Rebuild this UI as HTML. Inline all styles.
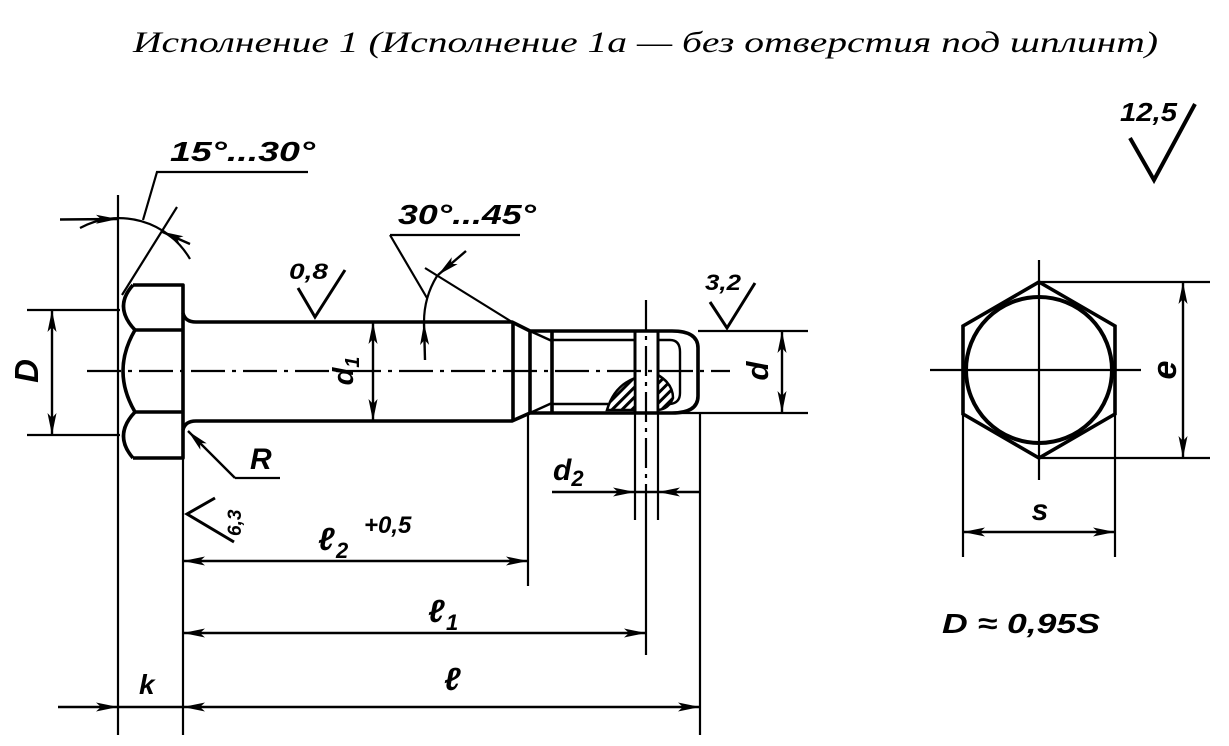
<!DOCTYPE html>
<html><head><meta charset="utf-8"><style>
html,body{margin:0;padding:0;background:#fff;}
svg{display:block;}
.t{font-family:"Liberation Sans","DejaVu Sans",sans-serif;font-style:italic;font-weight:bold;fill:#000;}
</style></head><body>
<svg width="1229" height="746" viewBox="0 0 1229 746" xmlns="http://www.w3.org/2000/svg">
<defs>
<marker id="a" viewBox="0 0 22 10" refX="22" refY="5" markerWidth="22" markerHeight="10" markerUnits="userSpaceOnUse" orient="auto-start-reverse"><path d="M0,0.5 L22,5 L0,9.5 L5,5 z" fill="#000"/></marker>
<pattern id="h" patternUnits="userSpaceOnUse" width="7" height="7" patternTransform="rotate(45)"><rect width="7" height="7" fill="#fff"/><line x1="1.5" y1="0" x2="1.5" y2="7" stroke="#000" stroke-width="3"/></pattern>
</defs>
<rect width="1229" height="746" fill="#fff"/>

<text x="133" y="52" font-family="Liberation Serif, DejaVu Serif, serif" font-style="italic" font-size="30" textLength="1025" lengthAdjust="spacingAndGlyphs">Исполнение 1 (Исполнение 1а — без отверстия под шплинт)</text>

<!-- thin lines -->
<g stroke="#000" stroke-width="2.2" fill="none">
  <path d="M87,371 H730" stroke-dasharray="34 7 4 7"/>
  <path d="M646,300 V500" stroke-dasharray="30 6 4 6"/>
  <path d="M646,500 V655"/>
  <path d="M118,195 V735"/>
  <path d="M183,458 V735"/>
  <path d="M528,415 V586"/>
  <path d="M700,413 V735"/>
  <path d="M635,413 V520"/>
  <path d="M658,413 V520"/>
  <path d="M27,310 H120"/>
  <path d="M27,435 H120"/>
  <path d="M698,331 H808"/>
  <path d="M672,413 H808"/>
  <path d="M122,295 L177,207"/>
  <path d="M80,228 A82,82 0 0 1 190,259"/>
  <path d="M143,220 L157,172 H308"/>
  <path d="M425,268 L512,322"/>
  <path d="M424,322 A88,88 0 0 1 437,276"/>
  <path d="M390,235 H520"/>
  <path d="M390,235 L427,298"/>
  <path d="M235,478 H280"/>
  <path d="M930,370 H1141"/>
  <path d="M1039,260 V480"/>
  <path d="M1039,282 H1210"/>
  <path d="M1039,458 H1210"/>
  <path d="M963,414 V557"/>
  <path d="M1115,414 V557"/>
</g>

<!-- dimension lines with arrows -->
<g stroke="#000" stroke-width="2.4" fill="none">
  <path d="M52,310 V435" marker-start="url(#a)" marker-end="url(#a)"/>
  <path d="M373,322 V421" marker-start="url(#a)" marker-end="url(#a)"/>
  <path d="M782,331 V413" marker-start="url(#a)" marker-end="url(#a)"/>
  <path d="M1183,282 V458" marker-start="url(#a)" marker-end="url(#a)"/>
  <path d="M963,532 H1115" marker-start="url(#a)" marker-end="url(#a)"/>
  <path d="M183,561 H528" marker-start="url(#a)" marker-end="url(#a)"/>
  <path d="M183,633 H646" marker-start="url(#a)" marker-end="url(#a)"/>
  <path d="M183,707 H700" marker-start="url(#a)" marker-end="url(#a)"/>
  <path d="M58,707 H118" marker-end="url(#a)"/>
  <path d="M118,707 H183"/>
  <path d="M552,492 H635" marker-end="url(#a)"/>
  <path d="M635,492 H658"/>
  <path d="M658,492 H700" marker-start="url(#a)"/>
  <path d="M60,219.5 L118,219" marker-end="url(#a)"/>
  <path d="M190,244 L161.5,231.5" marker-end="url(#a)"/>
  <path d="M425,360 L424,323" marker-end="url(#a)"/>
  <path d="M466,251 L438,275" marker-end="url(#a)"/>
  <path d="M235,478 L188,431" marker-end="url(#a)"/>
</g>

<!-- main contour -->
<g stroke="#000" stroke-width="3.6" fill="none" stroke-linejoin="round">
  <path d="M133,285 H183 V458 H133"/>
  <path d="M133,285 Q113,307 135,330"/>
  <path d="M135,330 Q111,371 135,412"/>
  <path d="M135,412 Q113,435 133,458"/>
  <path d="M135,330 H183 M135,412 H183"/>
  <path d="M183,313 Q185,322 196,322 H512 L530,331 H672 Q698,331 698,348 V396 Q698,413 672,413 H530 L512,421 H196 Q185,421 183,430"/>
  <path d="M513,322 V421"/>
  <path d="M530,331 V413"/>
  <path d="M552,331 V413"/>
  <path d="M635,331 V413 M658,331 V413" stroke-width="3"/>
</g>
<g stroke="#000" stroke-width="2.4" fill="none">
  <path d="M530,331 L552,341 M530,413 L552,403"/>
  <path d="M552,340 H635 M552,404 H608"/>
  <path d="M658,340 H670 Q680,340 680,352 V393 Q680,403 670,404 H660"/>
</g>
<path d="M607,410 Q614,386 635,378 V410 Z" fill="url(#h)" stroke="#000" stroke-width="2.5"/>
<path d="M658,375 Q673,384 673,398 Q669,409 658,410 Z" fill="url(#h)" stroke="#000" stroke-width="2.5"/>

<!-- roughness symbols -->
<g stroke="#000" stroke-width="3" fill="none" stroke-linejoin="miter">
  <path d="M298,288 L315,317 L345,270"/>
  <path d="M710,302 L727,328 L755,283"/>
  <path d="M1130,138 L1154,180 L1195,104" stroke-width="4"/>
  <path d="M215,498 L187,514 L234,542"/>
</g>

<!-- hex view -->
<g stroke="#000" stroke-width="3.6" fill="none" stroke-linejoin="miter">
  <path d="M1039,282 L1115,326 V414 L1039,458 L963,414 V326 Z"/>
  <circle cx="1039" cy="370" r="73" stroke-width="4"/>
</g>

<!-- labels -->
<g class="t">
  <text x="170" y="161" font-size="28" textLength="145" lengthAdjust="spacingAndGlyphs">15°...30°</text>
  <text x="398" y="224" font-size="28" textLength="138" lengthAdjust="spacingAndGlyphs">30°...45°</text>
  <text x="289" y="279" font-size="22" textLength="39" lengthAdjust="spacingAndGlyphs">0,8</text>
  <text x="705" y="290" font-size="22" textLength="36" lengthAdjust="spacingAndGlyphs">3,2</text>
  <text x="1120" y="121" font-size="26" textLength="57" lengthAdjust="spacingAndGlyphs">12,5</text>
  <text x="250" y="469" font-size="30">R</text>
  <text transform="translate(38,371) rotate(-90)" text-anchor="middle" font-size="33">D</text>
  <text transform="translate(353,371) rotate(-90)" text-anchor="middle" font-size="29">d<tspan font-size="20" dy="6">1</tspan></text>
  <text transform="translate(768,371) rotate(-90)" text-anchor="middle" font-size="31">d</text>
  <text transform="translate(1176,370) rotate(-90)" text-anchor="middle" font-size="34">e</text>
  <text x="1040" y="520" text-anchor="middle" font-size="30">s</text>
  <text x="553" y="480" font-size="30">d<tspan font-size="22" dy="6">2</tspan></text>
  <text x="318" y="550" font-size="32">ℓ</text>
  <text x="336" y="558" font-size="22">2</text>
  <text x="364" y="533" font-size="24">+0,5</text>
  <text x="428" y="622" font-size="32">ℓ</text>
  <text x="446" y="630" font-size="22">1</text>
  <text x="444" y="690" font-size="32">ℓ</text>
  <text x="139" y="694" font-size="28">k</text>
  <text transform="translate(241,536) rotate(-90)" font-size="19">6,3</text>
  <text x="942" y="633" font-size="28" textLength="158" lengthAdjust="spacingAndGlyphs">D ≈ 0,95S</text>
</g>
</svg>
</body></html>
